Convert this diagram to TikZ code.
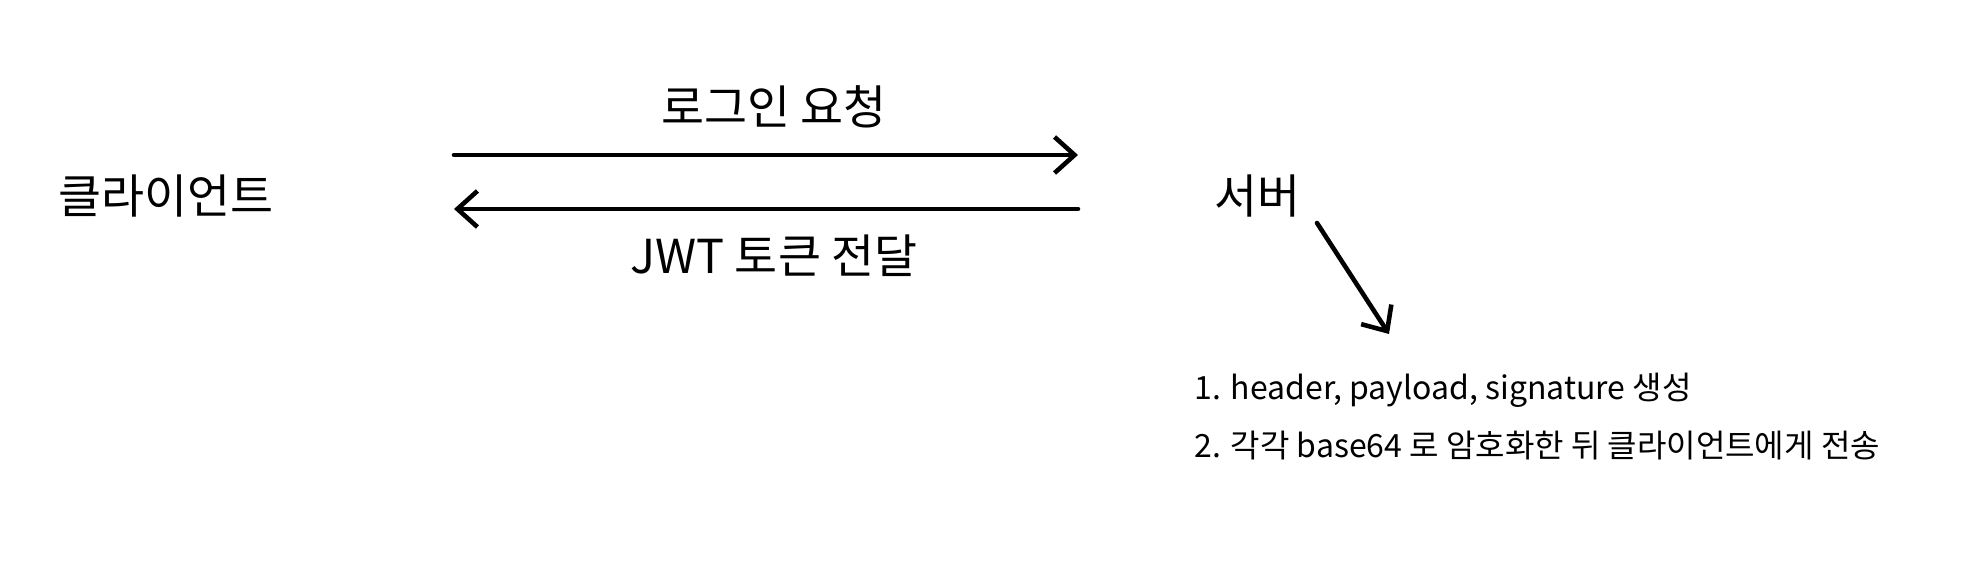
\documentclass[tikz,border=0pt]{standalone}
\usepackage{fontspec}
\setmainfont{Noto Sans CJK KR}
\usetikzlibrary{arrows.meta,positioning}

\begin{document}
\begin{tikzpicture}[
			x=0.01cm,y=-0.01cm,
			big/.style={inner sep=0pt,font=\fontsize{13.3}{16}\selectfont},
			note/.style={inner sep=0pt,align=left,font=\fontsize{9.1}{16.5}\selectfont},
			arr/.style={-{Straight Barb[length=2mm,width=3.6mm]},line width=1.3pt,line cap=round}
			]
			\useasboundingbox (0,0) rectangle (1974,588);
			\node[big,anchor=west] (client) at (58,196) {클라이언트};
			\node[big,anchor=west] (server) at (1214,196) {서버};
			\node[big] (login) at (774,107) {로그인 요청};
			\node[big] (token) at (774,256) {JWT 토큰 전달};
			\node[note,anchor=west] (steps) at (1194,417) {1. header, payload, signature 생성\\2. 각각 base64 로 암호화한 뒤 클라이언트에게 전송};
			\coordinate (reqA) at (454,155);
			\coordinate (reqB) at (1078,155);
			\coordinate (resA) at (1078,209);
			\coordinate (resB) at (454,209);
			\coordinate (genA) at (1317,223);
			\coordinate (genB) at (1389,334);
			\draw[arr] (reqA)--(reqB);
			\draw[arr] (resA)--(resB);
			\draw[arr] (genA)--(genB);
		\end{tikzpicture}
\end{document}
